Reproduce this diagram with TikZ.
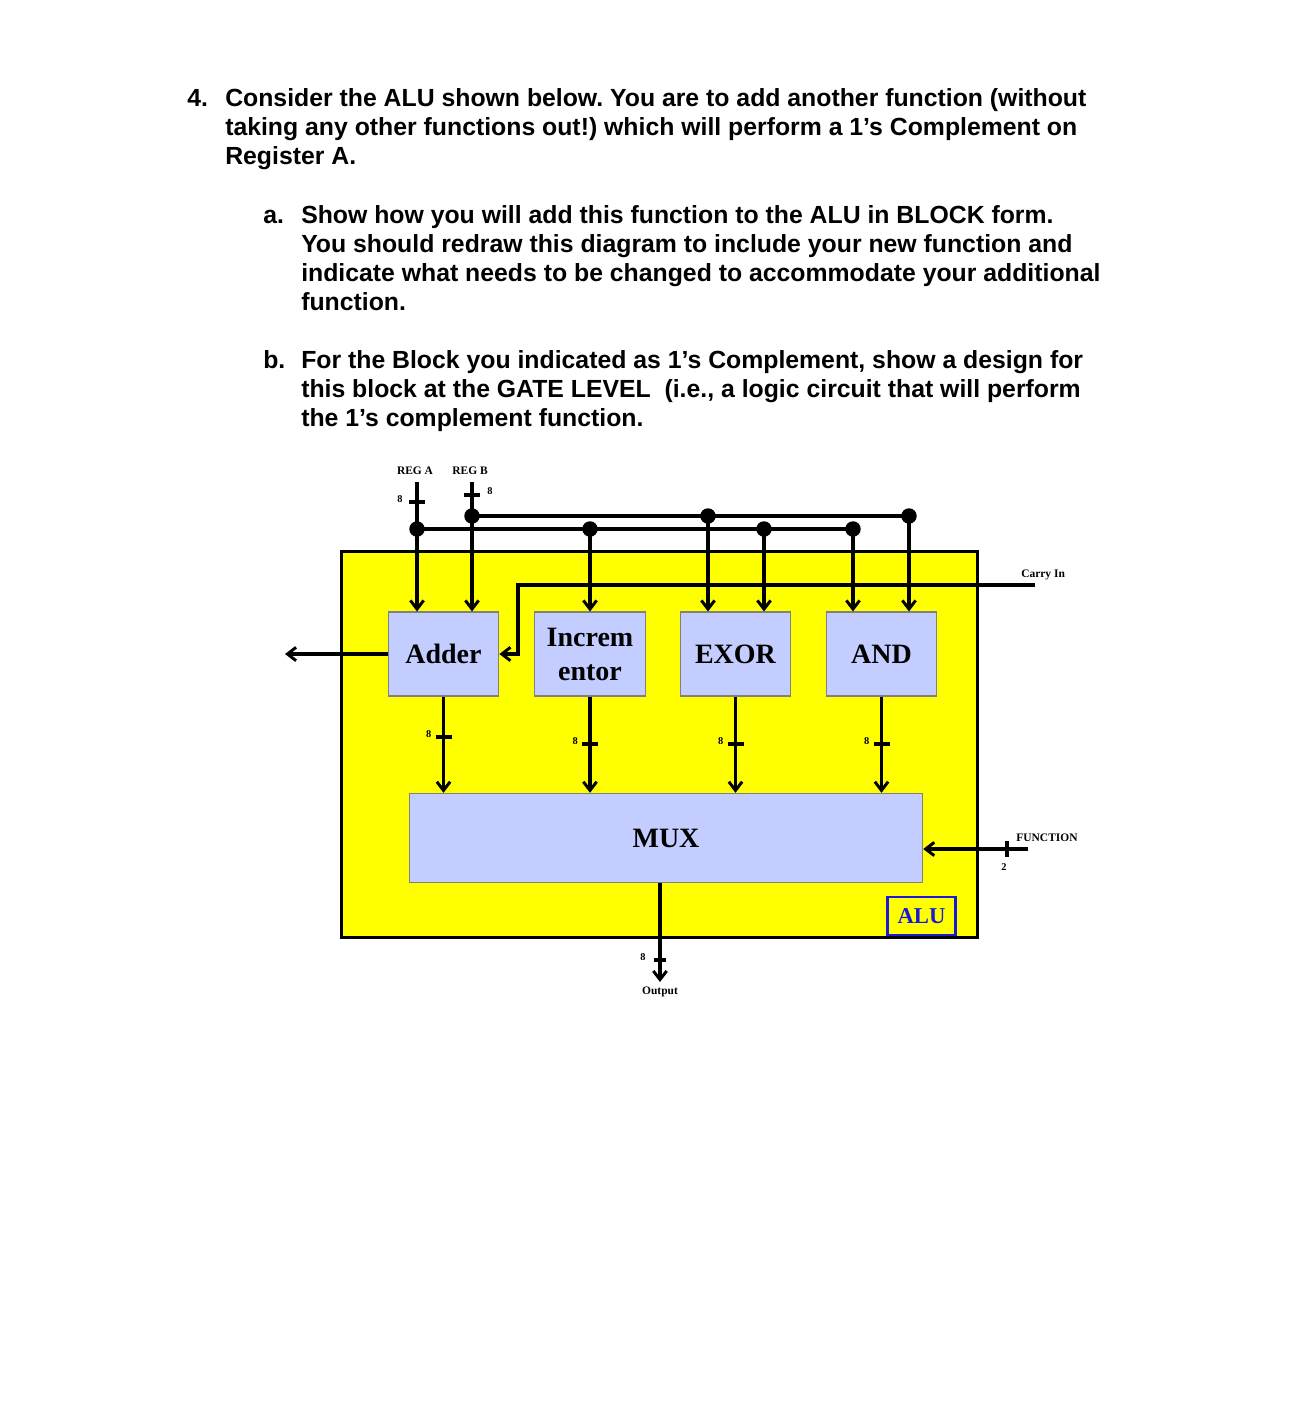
\documentclass[tikz,border=0pt]{standalone}
\usepackage{fontspec}
\setmainfont{Liberation Serif}
\newfontfamily\qfont{Liberation Sans}
\usetikzlibrary{arrows.meta,positioning}
\definecolor{aluyellow}{RGB}{255,255,0}
\definecolor{blockblue}{RGB}{196,205,255}
\definecolor{alublue}{RGB}{25,25,215}
\frenchspacing
\tikzset{
  wire/.style={line width=2.4pt},
  arr/.style={wire,-{Straight Barb[length=6.5pt,width=10pt,line width=2.2pt]}},
  block/.style={draw=black!50,fill=blockblue,line width=0.8pt,minimum width=83pt,minimum height=63pt,
    align=center,font=\bfseries\fontsize{21}{25.5}\selectfont},
  sig/.style={font=\bfseries\fontsize{8.6}{10}\selectfont,inner sep=0pt},
  bits/.style={font=\bfseries\fontsize{7.8}{9}\selectfont,inner sep=0pt},
  qline/.style={anchor=base west,inner sep=0pt,font=\qfont\bfseries\fontsize{18.6}{22}\selectfont}
}
\begin{document}
\begin{tikzpicture}[x=0.75pt,y=-0.75pt]
\useasboundingbox (0,0) rectangle (1290,1411);

% Question text
\node[qline] (q4) at (187,106) {4.};
\node[qline] (q1) at (225,106) {Consider the ALU shown below. You are to add another function (without};
\node[qline] (q2) at (225,135) {taking any other functions out!) which will perform a 1’s Complement on};
\node[qline] (q3) at (225,164) {Register A.};
\node[qline] (qa) at (263,223) {a.};
\node[qline] (a1) at (301,223) {Show how you will add this function to the ALU in BLOCK form.};
\node[qline] (a2) at (301,252) {You should redraw this diagram to include your new function and};
\node[qline] (a3) at (301,281) {indicate what needs to be changed to accommodate your additional};
\node[qline] (a4) at (301,310) {function.};
\node[qline] (qb) at (263,368) {b.};
\node[qline] (b1) at (301,368) {For the Block you indicated as 1’s Complement, show a design for};
\node[qline] (b2) at (301,397) {this block at the GATE LEVEL\ \ (i.e., a logic circuit that will perform};
\node[qline] (b3) at (301,426) {the 1’s complement function.};

% ALU outline
\node[draw,line width=2.4pt,fill=aluyellow,minimum width=477pt,minimum height=290pt] (alu) at (659.5,744.5) {};

% Function blocks and the multiplexer
\node[block] (adder) at (443.5,654) {Adder};
\node[block] (incr) at (590,654) {Increm\\entor};
\node[block] (exor) at (735.5,654) {EXOR};
\node[block] (and) at (881.5,654) {AND};
\node[block,minimum width=385pt,minimum height=67pt] (mux) at (666,838) {MUX};
\node[draw=alublue,line width=1.6pt,text=alublue,minimum width=51pt,minimum height=28pt,
  font=\bfseries\fontsize{17}{20}\selectfont,inner sep=1pt] (alulabel) at (921.5,916) {ALU};

% Register inputs
\coordinate (rega) at (417,482);
\coordinate (regb) at (472,482);
\node[sig] (reganame) at (415,471) {REG A};
\node[sig] (regbname) at (470,471) {REG B};
\draw[arr] (rega) -- (rega |- adder.north);
\draw[arr] (regb) -- (regb |- adder.north);
\draw[wire] (409,502) -- (425,502);
\draw[wire] (464,495) -- (480,495);
\node[bits] (rega8) at (400,499) {8};
\node[bits] (regb8) at (490,491) {8};

% Buses for A and B with their taps
\coordinate (busa) at (417,529);
\coordinate (busb) at (472,516);
\draw[wire] (busa) -- (853,529);
\draw[wire] (busb) -- (909,516);
\fill (busa) circle (5.8pt);
\fill (busb) circle (5.8pt);
\foreach \x/\b in {590/incr,764/exor,853/and} {
  \coordinate (tap) at (\x,529);
  \fill (tap) circle (5.8pt);
  \draw[arr] (tap) -- (tap |- \b.north);
}
\foreach \x/\b in {708/exor,909/and} {
  \coordinate (tap) at (\x,516);
  \fill (tap) circle (5.8pt);
  \draw[arr] (tap) -- (tap |- \b.north);
}

% Carry in and adder carry out
\coordinate (carry) at (1035,585);
\coordinate (cbend) at (518,585);
\node[sig,anchor=west] (carryname) at (1021,575) {Carry In};
\draw[arr] (carry) -- (cbend) |- (adder.east);
\coordinate (cout) at (285,654);
\draw[arr] (adder.west) -- (cout);

% Block outputs into the multiplexer
\foreach \b/\y in {adder/737,incr/744,exor/744,and/744} {
  \draw[arr] (\b.south) -- (\b.south |- mux.north);
  \coordinate (tick) at (\b.south |- 0,\y);
  \draw[wire] ([xshift=-6pt]tick) -- ([xshift=6pt]tick);
  \node[bits,left=9pt of tick,yshift=2pt] {8};
}

% Function select
\coordinate (func) at (1028,849);
\draw[arr] (func) -- (func -| mux.east);
\draw[wire] (1007,841) -- (1007,857);
\node[bits] (func2) at (1004,867) {2};
\node[sig] (funcname) at (1047,838) {FUNCTION};

% Output
\coordinate (out) at (660,982);
\draw[arr] (out |- mux.south) -- (out);
\draw[wire] (654,960) -- (666,960);
\node[bits] (out8) at (643,957) {8};
\node[sig] (outname) at (660,992) {Output};
\end{tikzpicture}
\end{document}
